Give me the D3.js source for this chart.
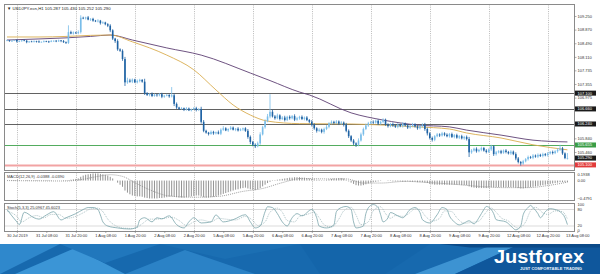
<!DOCTYPE html>
<html>
<head>
<meta charset="utf-8">
<script src="https://cdn.jsdelivr.net/npm/d3@7"></script>
<style>
html, body { margin: 0; padding: 0; background: #fff; }
svg { display: block; }
text { font-family: "Liberation Sans", Arial, sans-serif; }
</style>
</head>
<body>
<div id="chart"></div>
<script>
//*************************1. Data

//------------------------ H1 candles, 30 Jul 16:00 .. 13 Aug 04:00
const firstOpen = 108.56
const closes = [
  108.57,108.55,108.56,108.58,108.54,108.55,108.57,108.56,108.52,108.54,108.53,108.55,108.54,108.52,108.53,108.55,108.54,108.53,108.55,108.56,108.54,108.57,108.55,108.52,108.50,
  108.80,108.76,108.79,108.77,108.80,
  109.20,109.18,109.21,109.15,109.17,109.12,109.10,109.12,109.05,109.07,109.02,108.98,
  108.85,108.62,108.55,108.32,108.28,108.05,107.40,
  107.45,107.42,107.48,107.40,107.44,107.47,107.42,
  107.10,107.05,107.08,107.02,107.06,107.04,107.07,107.00,107.03,107.05,107.01,107.04,
  106.80,106.70,106.66,106.68,106.64,106.67,106.62,106.65,106.68,106.63,106.66,
  106.30,106.05,106.00,105.96,106.02,105.98,106.01,105.97,106.08,106.12,106.06,106.10,106.14,106.08,106.11,106.06,106.09,106.12,106.05,
  105.88,105.74,105.66,105.62,105.70,
  105.95,106.15,106.32,106.45,106.58,
  106.45,106.40,106.48,106.38,106.42,106.35,106.44,106.40,106.46,106.36,106.40,106.44,106.38,106.42,106.35,106.30,
  106.22,106.12,106.05,106.08,106.02,106.10,106.16,
  106.26,106.30,106.27,106.31,106.25,106.28,106.22,
  106.05,105.90,105.78,105.70,105.66,105.78,
  105.95,106.10,106.20,106.26,106.30,106.28,106.33,106.25,106.30,106.36,
  106.22,106.18,106.24,106.20,106.16,106.22,106.18,106.25,106.20,106.14,106.19,106.23,106.17,106.12,106.18,106.22,106.10,105.98,
  105.85,105.80,105.90,105.95,105.92,105.98,105.94,105.90,105.96,105.88,105.93,105.86,105.90,105.84,105.88,105.82,
  105.45,
  105.50,105.55,105.48,105.52,105.57,105.50,105.46,105.53,
  105.62,105.40,105.45,
  105.48,105.44,105.50,105.46,105.42,105.47,105.40,
  105.28,105.18,105.14,105.20,
  105.26,105.32,105.30,105.36,105.33,105.38,105.35,105.40,105.37,
  105.42,105.46,105.43,105.48,
  105.52,105.56,105.42,105.29,105.29
]
// wick lengths above / below the body, in 0.01
const wickHi = [
  2,1,3,1,2,2,1,3,2,1,2,2,1,3,1,2,1,2,3,1,2,2,1,3,2,
  19,4,3,2,5,7,3,2,4,2,3,2,4,2,3,2,3,4,3,2,5,3,4,6,8,
  5,3,2,4,3,2,8,3,2,4,3,2,3,4,2,3,2,23,5,4,2,3,2,4,3,
  2,3,4,2,6,5,3,2,4,3,2,5,4,6,3,2,4,3,2,4,3,2,3,5,4,
  3,4,5,6,4,5,7,49,6,4,5,3,4,5,3,4,3,5,4,3,4,3,4,3,5,
  4,3,4,3,4,5,3,4,3,4,3,4,3,5,4,3,4,3,6,5,4,5,4,3,4,
  3,4,3,4,3,4,3,4,3,5,3,4,3,4,3,4,3,4,3,4,5,4,3,4,3,
  4,3,4,3,4,3,4,3,4,3,4,3,4,6,4,3,4,3,4,3,4,3,4,3,4,
  3,4,3,4,3,4,3,5,4,3,4,3,4,3,4,3,4,3,4,3,4,3,4,3,5,
  10,4,3,14
]
const wickLo = [
  1,2,2,1,3,2,2,1,3,2,1,2,3,2,1,2,2,3,1,2,2,1,3,2,3,
  3,2,3,2,3,4,2,3,2,4,3,2,3,4,2,3,4,5,4,5,4,3,5,10,4,
  3,4,2,3,4,3,5,3,4,3,2,4,3,4,3,2,4,3,6,4,3,2,4,3,2,
  3,2,4,3,5,4,3,4,2,4,3,2,4,3,2,4,3,2,4,3,2,4,3,5,6,
  4,5,3,4,3,4,3,5,3,4,3,4,3,4,3,4,3,4,3,4,3,4,3,4,5,
  4,5,3,4,5,3,4,3,4,3,4,3,5,4,5,4,5,6,4,3,4,3,4,3,4,
  3,4,3,4,3,4,3,4,3,4,3,4,3,4,3,4,3,4,3,4,5,6,4,5,4,
  3,4,3,4,3,4,3,4,3,4,3,4,4,13,4,3,4,3,4,3,4,3,4,5,4,
  3,4,3,4,3,4,3,5,4,6,4,3,4,3,4,3,4,3,4,3,4,3,4,3,4,
  3,4,3,4
]

//------------------------ moving averages [bar, price]
const maFast = [[0,108.665],[13,108.665],[24,108.68],[34,108.71],[42,108.72],[51,108.53],[65,108.16],[76,107.75],[85,107.19],[92,106.77],[99,106.49],[106,106.32],[119,106.25],[140,106.24],[153,106.21],[167,106.16],[180,106.10],[187,105.99],[201,105.85],[214,105.66],[228,105.52]]
const maSlow = [[0,108.58],[13,108.61],[24,108.64],[34,108.68],[42,108.72],[51,108.58],[65,108.36],[79,108.16],[99,107.66],[107,107.45],[119,107.13],[123,107.05],[140,106.55],[153,106.35],[167,106.21],[180,106.16],[187,106.07],[201,105.93],[214,105.79],[228,105.74]]

//------------------------ horizontal levels
const levelPrices = [107.100, 106.660, 106.240, 105.655, 105.100]
const levelKinds = ["dark", "dark", "dark", "green", "red"]
const bidPrice = 105.290

//------------------------ MACD(12,26,9) histogram per bar + signal [bar, value]
const macdHist = [
  0.00,0.00,-0.01,-0.01,-0.01,-0.01,0.00,0.00,-0.01,-0.01,-0.01,-0.01,-0.01,-0.01,-0.01,-0.01,-0.01,-0.01,-0.01,0.00,0.00,0.00,0.00,-0.01,-0.01,
  0.01,0.02,0.03,0.04,0.05,0.09,0.12,0.14,0.15,0.16,0.17,0.17,0.17,0.16,0.15,0.14,0.12,0.09,0.05,0.00,-0.05,-0.10,-0.15,-0.24,-0.29,
  -0.33,-0.36,-0.37,-0.38,-0.38,-0.39,-0.41,-0.42,-0.43,-0.43,-0.43,-0.43,-0.42,-0.42,-0.41,-0.40,-0.39,-0.38,-0.39,-0.40,-0.41,-0.41,-0.41,-0.40,-0.39,
  -0.38,-0.37,-0.36,-0.36,-0.38,-0.40,-0.41,-0.41,-0.40,-0.39,-0.38,-0.36,-0.34,-0.32,-0.30,-0.28,-0.26,-0.24,-0.22,-0.21,-0.19,-0.18,-0.17,-0.19,-0.21,
  -0.22,-0.23,-0.21,-0.18,-0.14,-0.10,-0.06,-0.03,-0.01,0.01,0.02,0.03,0.04,0.05,0.06,0.07,0.07,0.08,0.08,0.08,0.07,0.07,0.06,0.05,0.04,
  0.03,0.02,0.02,0.01,0.01,0.02,0.03,0.04,0.05,0.05,0.06,0.06,0.05,0.02,-0.02,-0.05,-0.08,-0.11,-0.12,-0.12,-0.11,-0.09,-0.07,-0.05,-0.04,
  -0.03,-0.02,-0.01,0.00,0.00,-0.01,-0.01,-0.02,-0.02,-0.02,-0.02,-0.03,-0.03,-0.02,-0.03,-0.03,-0.03,-0.04,-0.04,-0.04,-0.05,-0.06,-0.08,-0.09,-0.10,
  -0.10,-0.10,-0.10,-0.10,-0.10,-0.10,-0.10,-0.10,-0.10,-0.10,-0.11,-0.11,-0.11,-0.14,-0.16,-0.17,-0.18,-0.18,-0.18,-0.18,-0.18,-0.17,-0.16,-0.16,-0.16,
  -0.16,-0.16,-0.16,-0.16,-0.16,-0.16,-0.16,-0.17,-0.18,-0.19,-0.19,-0.18,-0.17,-0.16,-0.15,-0.14,-0.13,-0.12,-0.11,-0.10,-0.09,-0.08,-0.07,-0.06,-0.05,
  -0.04,-0.04,-0.04,-0.04
]
const macdSignal = [[0,0.00],[24,-0.01],[30,0.02],[36,0.09],[42,0.14],[47,0.10],[52,-0.05],[58,-0.22],[66,-0.37],[76,-0.40],[86,-0.38],[96,-0.26],[104,-0.19],[112,-0.05],[120,0.05],[130,0.04],[138,0.04],[145,-0.06],[152,-0.06],[162,-0.02],[172,-0.05],[182,-0.09],[192,-0.14],[202,-0.17],[212,-0.17],[220,-0.12],[228,-0.039]]

//------------------------ Stochastic(5,3,3) [bar, value]
const stochMain = [[0,80],[4,35],[5,25],[7,70],[11,50],[13,45],[16,60],[19,72],[22,42],[24,50],[28,65],[31,80],[33,87],[35,87],[37,80],[38,60],[39,35],[41,20],[45,13],[50,9],[53,17],[54,42],[56,50],[59,35],[61,50],[63,46],[66,57],[69,25],[72,13],[74,35],[76,50],[79,31],[83,35],[85,60],[88,35],[92,43],[97,61],[99,35],[101,13],[103,20],[105,72],[106,90],[108,87],[110,65],[112,35],[114,20],[116,50],[118,65],[120,57],[124,80],[126,50],[127,20],[130,13],[133,24],[134,72],[136,87],[138,91],[140,80],[141,35],[142,13],[145,20],[146,65],[148,95],[149,98],[151,87],[152,61],[153,35],[155,50],[156,69],[159,57],[161,50],[164,80],[166,87],[168,69],[169,43],[172,31],[175,61],[177,87],[179,80],[180,57],[182,35],[184,24],[186,31],[188,39],[190,28],[192,50],[194,80],[195,91],[197,80],[198,65],[199,43],[203,35],[205,20],[207,6],[209,20],[210,61],[212,87],[213,95],[214,87],[216,65],[217,50],[219,72],[221,83],[223,80],[225,72],[227,50],[228,25.1]]
const stochSignal = [[0,75],[4,55],[6,35],[9,50],[12,58],[15,50],[18,62],[21,62],[24,48],[28,55],[31,68],[34,82],[37,85],[39,72],[41,45],[44,22],[48,12],[52,11],[55,28],[58,45],[61,45],[64,48],[67,52],[70,40],[73,22],[76,35],[79,42],[83,35],[86,48],[89,45],[93,42],[97,55],[100,40],[102,22],[105,35],[107,70],[110,85],[112,70],[114,40],[117,35],[119,55],[122,62],[125,70],[127,50],[129,25],[132,16],[135,45],[137,75],[140,88],[142,60],[144,25],[147,35],[149,75],[152,90],[154,65],[156,48],[158,58],[161,55],[163,62],[166,82],[168,80],[170,58],[173,38],[176,48],[178,75],[181,72],[183,50],[186,30],[189,33],[192,38],[194,60],[197,85],[199,70],[201,50],[204,38],[206,22],[208,12],[211,35],[213,75],[215,88],[218,68],[220,62],[223,75],[226,72],[228,45.6]]

//------------------------ axis labels (grid prices hidden under the level tags are left out)
const priceTicks = [109.250,108.870,108.490,108.110,107.735,107.355,106.975,105.840,105.460]
const timeLabels = ["30 Jul 2019","31 Jul 08:00","31 Jul 20:00","1 Aug 08:00","1 Aug 20:00","2 Aug 08:00","2 Aug 20:00","5 Aug 08:00","5 Aug 20:00","6 Aug 08:00","6 Aug 20:00","7 Aug 08:00","7 Aug 20:00","8 Aug 08:00","8 Aug 20:00","9 Aug 08:00","9 Aug 20:00","12 Aug 08:00","12 Aug 20:00","13 Aug 08:00"]
const firstLabelBar = 4
const barsPerLabel = 12

//*************************2. Dimensions & wrapper

const dims = { width: 600, height: 274 }
const plotLeft = 4.5
const plotRight = 574.5
const panels = {
  main: { top: 4.5, bottom: 170.5 },
  macd: { top: 172.5, bottom: 200.5 },
  stoch: { top: 203.5, bottom: 231.5 }
}

const svg = d3.select("#chart").append("svg")
  .attr("width", dims.width)
  .attr("height", dims.height)

//*************************3. Scales

const x = d3.scaleLinear().domain([0, 232]).range([7, 7 + 232 * 2.458])
const yMain = d3.scaleLinear().domain([104.944, 109.570]).range([panels.main.bottom, panels.main.top])
const yMacd = d3.scaleLinear().domain([-0.4791, 0.1938]).range([panels.macd.bottom, panels.macd.top])
const yStoch = d3.scaleLinear().domain([0, 100]).range([panels.stoch.bottom, 204])

const defs = svg.append("defs")
Object.entries(panels).forEach(([k, p]) => {
  defs.append("clipPath").attr("id", "clip-" + k)
    .append("rect").attr("x", plotLeft).attr("y", p.top)
    .attr("width", plotRight - plotLeft).attr("height", p.bottom - p.top)
})

//*************************4. Grid

const gridBars = d3.range(firstLabelBar, 232, barsPerLabel * 2)
Object.values(panels).forEach(p => {
  svg.append("g").selectAll("line").data(gridBars.filter(b => x(b) < plotRight)).join("line")
    .attr("x1", b => Math.round(x(b)) + 0.5).attr("x2", b => Math.round(x(b)) + 0.5)
    .attr("y1", p.top).attr("y2", p.bottom)
    .attr("stroke", "#a8a8a8").attr("stroke-width", 0.8).attr("stroke-dasharray", "1,1.2")
})

//*************************5. Main panel

const mainG = svg.append("g").attr("clip-path", "url(#clip-main)")

// levels
const levelColor = { dark: "#3a3a3a", green: "#3fa34d", red: "#f2a3a3" }
const levelWidth = { dark: 0.8, green: 0.9, red: 2 }
mainG.selectAll("line.level").data(levelPrices).join("line")
  .attr("class", "level")
  .attr("x1", plotLeft).attr("x2", plotRight)
  .attr("y1", d => Math.round(yMain(d)) + 0.5).attr("y2", d => Math.round(yMain(d)) + 0.5)
  .attr("stroke", (d, i) => levelColor[levelKinds[i]])
  .attr("stroke-width", (d, i) => levelWidth[levelKinds[i]])

// moving averages
const maLine = d3.line().x(d => x(d[0])).y(d => yMain(d[1])).curve(d3.curveMonotoneX)
mainG.append("path").attr("d", maLine(maSlow)).attr("fill", "none").attr("stroke", "#5e3f73").attr("stroke-width", 0.9)
mainG.append("path").attr("d", maLine(maFast)).attr("fill", "none").attr("stroke", "#d9ad4f").attr("stroke-width", 0.9)

// candles
const bars = closes.map((c, i) => {
  const o = i === 0 ? firstOpen : closes[i - 1]
  return { i, o, c, h: Math.max(o, c) + wickHi[i] / 100, l: Math.min(o, c) - wickLo[i] / 100 }
})
const candleColor = d => d.c >= d.o ? "#79bde9" : "#1f63a4"
const candles = mainG.append("g").selectAll("g").data(bars).join("g")
candles.append("line")
  .attr("x1", d => x(d.i)).attr("x2", d => x(d.i))
  .attr("y1", d => yMain(d.h)).attr("y2", d => yMain(d.l))
  .attr("stroke", candleColor).attr("stroke-width", 0.8)
candles.append("rect")
  .attr("x", d => x(d.i) - 0.8).attr("width", 1.6)
  .attr("y", d => yMain(Math.max(d.o, d.c)))
  .attr("height", d => Math.max(0.7, yMain(Math.min(d.o, d.c)) - yMain(Math.max(d.o, d.c))))
  .attr("fill", candleColor)

svg.append("text").attr("x", 7).attr("y", 9.5)
  .attr("font-size", 4.3).attr("fill", "#222")
  .text("\u25BC USDJPY.ecn,H1  105.287 105.430 105.252 105.290")

//*************************6. MACD panel

const macdG = svg.append("g").attr("clip-path", "url(#clip-macd)")
macdG.selectAll("line").data(macdHist).join("line")
  .attr("x1", (d, i) => x(i)).attr("x2", (d, i) => x(i))
  .attr("y1", yMacd(0)).attr("y2", d => yMacd(d))
  .attr("stroke", "#6f6f6f").attr("stroke-width", 0.75)
macdG.append("path")
  .attr("d", d3.line().x(d => x(d[0])).y(d => yMacd(d[1])).curve(d3.curveMonotoneX)(macdSignal))
  .attr("fill", "none").attr("stroke", "#8a8a8a").attr("stroke-width", 0.8).attr("stroke-dasharray", "1,1")
svg.append("text").attr("x", 7).attr("y", 177.5)
  .attr("font-size", 4).attr("fill", "#333")
  .text("MACD(12,26,9) -0.0388 -0.0390")

//*************************7. Stochastic panel

const stochG = svg.append("g").attr("clip-path", "url(#clip-stoch)")
stochG.selectAll("line").data([80, 20]).join("line")
  .attr("x1", plotLeft).attr("x2", plotRight)
  .attr("y1", d => yStoch(d)).attr("y2", d => yStoch(d))
  .attr("stroke", "#9a9a9a").attr("stroke-width", 0.7).attr("stroke-dasharray", "1,1")
const stLine = d3.line().x(d => x(d[0])).y(d => yStoch(d[1])).curve(d3.curveMonotoneX)
stochG.append("path").attr("d", stLine(stochSignal))
  .attr("fill", "none").attr("stroke", "#9db6ba").attr("stroke-width", 0.8).attr("stroke-dasharray", "1,1")
stochG.append("path").attr("d", stLine(stochMain))
  .attr("fill", "none").attr("stroke", "#7aa4ab").attr("stroke-width", 0.8)
svg.append("text").attr("x", 7).attr("y", 208.5)
  .attr("font-size", 4).attr("fill", "#333")
  .text("Stoch(5,3,3) 25.0967 45.6023")

//*************************8. Frames & axes

Object.values(panels).forEach(p => {
  svg.append("rect").attr("x", plotLeft).attr("y", p.top)
    .attr("width", plotRight - plotLeft).attr("height", p.bottom - p.top)
    .attr("fill", "none").attr("stroke", "#8a8a8a").attr("stroke-width", 1)
})

const styleAxis = g => {
  g.select(".domain").remove()
  g.selectAll(".tick line").attr("stroke", "#777").attr("stroke-width", 0.6)
  g.selectAll(".tick text").attr("font-size", 4).attr("fill", "#333")
    .attr("font-family", "Liberation Sans, Arial, sans-serif")
}

svg.append("g").attr("transform", `translate(${plotRight},0)`)
  .call(d3.axisRight(yMain).tickValues(priceTicks).tickSize(2).tickPadding(1).tickFormat(d3.format(".3f")))
  .call(styleAxis)

const macdTicks = [0.1938, 0, -0.4791]
const macdFmt = d => d === 0 ? "0.00" : d3.format(".4f")(d)
svg.append("g").selectAll("text").data(macdTicks).join("text")
  .attr("x", plotRight + 3).attr("y", d => Math.min(Math.max(yMacd(d), panels.macd.top + 2), panels.macd.bottom - 1.5))
  .attr("dy", "0.35em").attr("font-size", 4).attr("fill", "#333").text(macdFmt)

const stochTicks = [100, 80, 20, 0]
svg.append("g").selectAll("text").data(stochTicks).join("text")
  .attr("x", plotRight + 3).attr("y", d => Math.min(Math.max(yStoch(d), panels.stoch.top + 1.5), panels.stoch.bottom - 0.5))
  .attr("dy", "0.35em").attr("font-size", 4).attr("fill", "#333").text(d => d)

// level tags on the price axis
const tagFill = { dark: "#1a1a1a", green: "#3a9d46", red: "#e23b3b" }
const tags = svg.append("g")
const tagData = levelPrices.map((p, i) => ({ p, kind: levelKinds[i] })).concat([{ p: bidPrice, kind: "dark" }])
tags.selectAll("rect").data(tagData).join("rect")
  .attr("x", plotRight + 0.5).attr("width", 21).attr("height", 5)
  .attr("y", d => yMain(d.p) - 2.5).attr("fill", d => tagFill[d.kind])
tags.selectAll("text").data(tagData).join("text")
  .attr("x", plotRight + 3).attr("y", d => yMain(d.p)).attr("dy", "0.35em")
  .attr("font-size", 4).attr("fill", "#fff").text(d => d3.format(".3f")(d.p))

// time axis
const timeAxis = d3.axisBottom(x)
  .tickValues(timeLabels.map((t, k) => firstLabelBar + k * barsPerLabel))
  .tickFormat((d, k) => timeLabels[k]).tickSize(1.5).tickPadding(1)
svg.append("g").attr("transform", `translate(0,${panels.stoch.bottom})`)
  .call(timeAxis).call(styleAxis)

//*************************9. Banner

const banner = svg.append("g")
banner.append("rect").attr("x", 0).attr("y", 244).attr("width", 600).attr("height", 30).attr("fill", "#1769ae")
const polys = [
  ["#2f88cc", [[0,244],[60,244],[0,274]]],
  ["#3b95d6", [[15,274],[75,248],[125,274]]],
  ["#2177bc", [[60,244],[160,244],[105,263]]],
  ["#2b82c6", [[125,274],[185,250],[255,274]]],
  ["#1b6fb3", [[160,244],[300,244],[225,259]]],
  ["#1465aa", [[300,244],[430,244],[385,274],[320,274]]],
  ["#3d93d2", [[415,274],[455,274],[520,244],[495,244]]],
  ["#0f579c", [[455,274],[600,274],[600,244],[520,244]]],
  ["#0b4a88", [[440,244],[600,244],[600,247.5],[470,247.5]]]
]
banner.selectAll("polygon").data(polys).join("polygon")
  .attr("points", d => d[1].map(p => p.join(",")).join(" "))
  .attr("fill", d => d[0])
banner.append("text").attr("x", 494).attr("y", 262.5)
  .attr("font-family", "Open Sans, sans-serif").attr("font-weight", 600)
  .attr("font-size", 18).attr("fill", "#fff")
  .attr("textLength", 90).attr("lengthAdjust", "spacingAndGlyphs")
  .text("Justforex")
banner.append("text").attr("x", 520).attr("y", 269.5)
  .attr("font-family", "Open Sans, sans-serif").attr("font-weight", 700)
  .attr("font-size", 3.6).attr("fill", "#e8f2fb")
  .attr("textLength", 62).attr("lengthAdjust", "spacingAndGlyphs")
  .text("JUST COMFORTABLE TRADING")
</script>
</body>
</html>
